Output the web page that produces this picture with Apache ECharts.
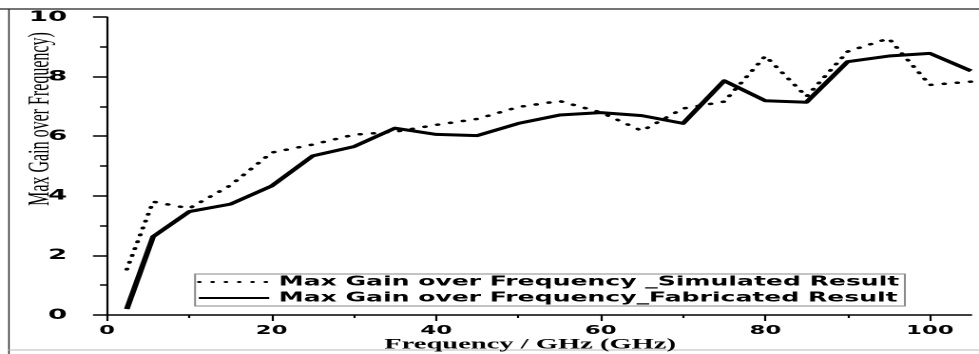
<!DOCTYPE html>
<html>
<head>
<meta charset="utf-8">
<script src="https://cdn.jsdelivr.net/npm/echarts@6/dist/echarts.min.js"></script>
<style>
  html, body { margin: 0; padding: 0; background: #fff; overflow: hidden; }
  #wrap { width: 979px; height: 354px; overflow: hidden; position: relative; }
  #chart { width: 515px; height: 354px; transform-origin: 0 0; transform: scaleX(1.90097); }
</style>
</head>
<body>
<div id="wrap"><div id="chart"></div></div>
<script>
// ---- data ----
const freq = [2.4, 5.6, 10, 15, 20, 25, 30, 35, 40, 45, 50, 55, 60, 65, 70, 75, 80, 85, 90, 95, 100, 105];
const simulated = [1.53, 3.8, 3.58, 4.35, 5.45, 5.72, 6.05, 6.15, 6.38, 6.58, 6.98, 7.18, 6.8, 6.18, 6.93, 7.16, 8.69, 7.33, 8.84, 9.28, 7.72, 7.83];
const fabricated = [0.2, 2.63, 3.47, 3.72, 4.33, 5.34, 5.65, 6.27, 6.06, 6.02, 6.43, 6.71, 6.79, 6.69, 6.43, 7.86, 7.19, 7.14, 8.5, 8.69, 8.78, 8.19];
const xMajorTicks = [0, 20, 40, 60, 80, 100];
const xMinorTicks = [10, 30, 50, 70, 90];
const seriesNames = ['Max Gain over Frequency _Simulated Result', 'Max Gain over Frequency_Fabricated Result'];
const xAxisTitle = 'Frequency / GHz (GHz)';
const yAxisTitle = 'Max Gain over Frequency)';

const simPairs = freq.map((f, i) => [f, simulated[i]]);
const fabPairs = freq.map((f, i) => [f, fabricated[i]]);

const chart = echarts.init(document.getElementById('chart'), null, { renderer: 'canvas', devicePixelRatio: 2 });

const option = {
  backgroundColor: '#fff',
  animation: false,
  grid: { left: 56.3, right: 4.2, top: 17, bottom: 39, containLabel: false, outerBoundsMode: 'none' },
  legend: {
    orient: 'vertical',
    left: 102.6,
    top: 274,
    padding: [1, 3, 1, 1],
    itemGap: 2,
    itemWidth: 37,
    itemHeight: 14,
    borderColor: '#8a8a8a',
    borderWidth: 1,
    backgroundColor: '#fff',
    itemStyle: { opacity: 0 },
    textStyle: { fontFamily: 'DejaVu Sans', fontWeight: 'bold', fontSize: 13.2, lineHeight: 14, color: '#000' },
    data: seriesNames
  },
  xAxis: [{
    type: 'value',
    min: 0, max: 105,
    interval: 20,
    name: xAxisTitle,
    nameLocation: 'middle',
    nameGap: 22,
    nameMoveOverlap: false,
    nameTextStyle: { fontFamily: 'Liberation Serif', fontWeight: 'bold', fontSize: 15, color: '#000', padding: [0, 9.4, 0, 0] },
    axisLine: { show: true, lineStyle: { color: '#000', width: 1.5 } },
    axisTick: { show: true, inside: false, length: 6, customValues: xMajorTicks, lineStyle: { color: '#000', width: 1.1 } },
    axisLabel: { show: true, margin: 10, customValues: xMajorTicks, fontFamily: 'DejaVu Sans', fontWeight: 'bold', fontSize: 12, color: '#000' },
    splitLine: { show: false }
  }, {
    type: 'value',
    min: 0, max: 105,
    position: 'bottom',
    axisLine: { show: false },
    axisTick: { show: true, inside: false, length: 3, customValues: xMinorTicks, lineStyle: { color: '#000', width: 1.1 } },
    axisLabel: { show: false },
    splitLine: { show: false }
  }],
  yAxis: {
    type: 'value',
    min: 0, max: 10,
    interval: 2,
    axisLine: { show: true, lineStyle: { color: '#000', width: 1.1 } },
    axisTick: { show: true, inside: false, length: 7.4, lineStyle: { color: '#000', width: 1.5 } },
    minorTick: { show: true, splitNumber: 2, length: 3.7, lineStyle: { color: '#000', width: 1.5 } },
    axisLabel: { margin: 21, fontFamily: 'DejaVu Sans', fontWeight: 'bold', fontSize: 14.5, color: '#000' },
    splitLine: { show: false },
    minorSplitLine: { show: false }
  },
  series: [{
    name: seriesNames[0],
    type: 'line',
    data: simPairs,
    symbol: 'none',
    smooth: false,
    itemStyle: { color: '#000' },
    lineStyle: { color: '#000', width: 2.5, type: [0.5, 6.5], cap: 'round' },
    z: 2
  }, {
    name: seriesNames[1],
    type: 'line',
    data: fabPairs,
    symbol: 'none',
    smooth: false,
    itemStyle: { color: '#000' },
    lineStyle: { color: '#000', width: 3, type: 'solid', join: 'round' },
    z: 3
  }],
  graphic: [
    { type: 'line', silent: true, z: -10, shape: { x1: 0, y1: 9, x2: 515, y2: 9 }, style: { stroke: '#222', lineWidth: 1.3 } },
    { type: 'line', silent: true, z: -10, shape: { x1: 4.7, y1: 9, x2: 4.7, y2: 354 }, style: { stroke: '#222', lineWidth: 0.7 } },
    { type: 'line', silent: true, z: -10, shape: { x1: 4.7, y1: 350, x2: 515, y2: 350 }, style: { stroke: '#c8c8c8', lineWidth: 1.2 } },
    { type: 'text', silent: true, x: 21.5, y: 119, rotation: Math.PI / 2,
      style: { text: yAxisTitle, font: '16px "Liberation Serif"', fill: '#000', align: 'center', verticalAlign: 'middle' } }
  ]
};
chart.setOption(option);
</script>
</body>
</html>
